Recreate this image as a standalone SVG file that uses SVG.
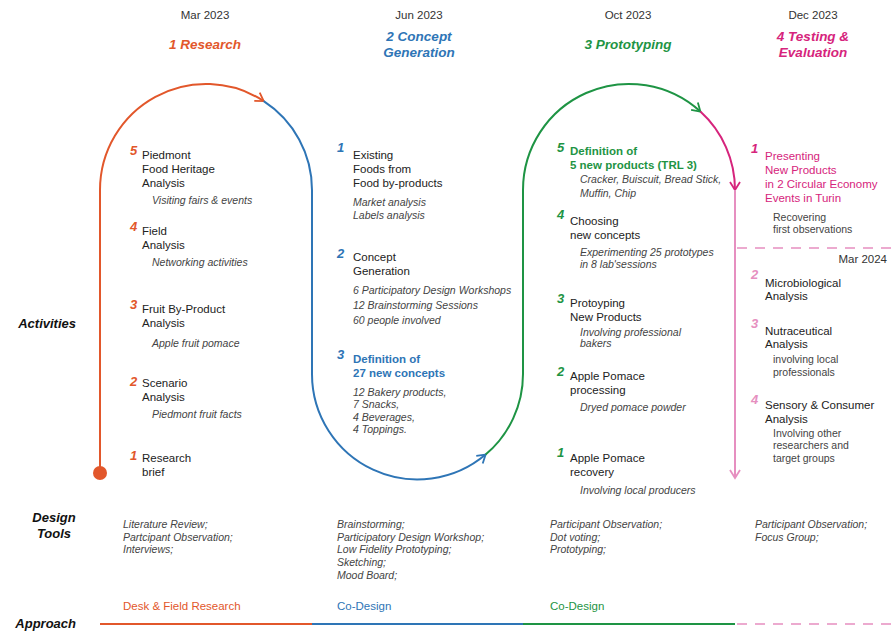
<svg xmlns="http://www.w3.org/2000/svg" width="893" height="632" viewBox="0 0 893 632">
<style>
text { font-family: "Liberation Sans", Arial, sans-serif; }
.date { font-size: 11.5px; fill: #333; text-anchor: middle; }
.phase { font-size: 13.5px; font-weight: bold; font-style: italic; text-anchor: middle; }
.row { font-size: 13px; font-weight: bold; font-style: italic; fill: #111; }
.num { font-size: 13px; font-weight: bold; font-style: italic; }
.t { font-size: 11.5px; fill: #222; }
.b { font-size: 11.5px; font-weight: bold; }
.s { font-size: 10.5px; font-style: italic; fill: #444; }
.sn { font-size: 10.5px; fill: #444; }
.tool { font-size: 10.5px; font-style: italic; fill: #444; }
.appr { font-size: 11.5px; }
.or { fill: #E2572B; } .bl { fill: #2E75B6; } .gr { fill: #1E9444; } .pk { fill: #D6247C; } .lp { fill: #E68FC0; }
.ln { fill: none; stroke-width: 2; }
</style>
<defs>
<marker id="aO" viewBox="0 0 12 12" refX="10" refY="6" markerWidth="12" markerHeight="12" markerUnits="userSpaceOnUse" orient="auto"><path d="M2,1 L10,6 L2,11" fill="none" stroke="#E2572B" stroke-width="1.8"/></marker>
<marker id="aB" viewBox="0 0 12 12" refX="10" refY="6" markerWidth="12" markerHeight="12" markerUnits="userSpaceOnUse" orient="auto"><path d="M2,1 L10,6 L2,11" fill="none" stroke="#2E75B6" stroke-width="1.8"/></marker>
<marker id="aG" viewBox="0 0 12 12" refX="10" refY="6" markerWidth="12" markerHeight="12" markerUnits="userSpaceOnUse" orient="auto"><path d="M2,1 L10,6 L2,11" fill="none" stroke="#1E9444" stroke-width="1.8"/></marker>
<marker id="aP" viewBox="0 0 12 12" refX="10" refY="6" markerWidth="12" markerHeight="12" markerUnits="userSpaceOnUse" orient="auto"><path d="M2,1 L10,6 L2,11" fill="none" stroke="#D6247C" stroke-width="1.8"/></marker>
<marker id="aL" viewBox="0 0 12 12" refX="10" refY="6" markerWidth="12" markerHeight="12" markerUnits="userSpaceOnUse" orient="auto"><path d="M2,1 L10,6 L2,11" fill="none" stroke="#E68FC0" stroke-width="1.8"/></marker>
</defs>
<rect width="893" height="632" fill="#ffffff"/>

<g id="headers">
<text class="date" x="205" y="19">Mar 2023</text>
<text class="date" x="419" y="19">Jun 2023</text>
<text class="date" x="628" y="19">Oct 2023</text>
<text class="date" x="813" y="19">Dec 2023</text>
<text class="phase or" x="205" y="49">1 Research</text>
<text class="phase bl" x="419" y="41">2 Concept</text>
<text class="phase bl" x="419" y="57">Generation</text>
<text class="phase gr" x="628" y="49">3 Prototyping</text>
<text class="phase pk" x="813" y="41">4 Testing &amp;</text>
<text class="phase pk" x="813" y="57">Evaluation</text>
</g>

<g id="row-labels">
<text class="row" x="76" y="328" text-anchor="end">Activities</text>
<text class="row" x="54" y="522" text-anchor="middle">Design</text>
<text class="row" x="54" y="538" text-anchor="middle">Tools</text>
<text class="row" x="76" y="628" text-anchor="end">Approach</text>
</g>

<g id="connectors">
<path class="ln" stroke="#E2572B" d="M100,473 V190 A106,106 0 0 1 263.7,101.1" marker-end="url(#aO)"/>
<circle cx="100" cy="473" r="7" fill="#E2572B"/>
<path class="ln" stroke="#2E75B6" d="M263.7,101.1 A106,106 0 0 1 312,190 V374 A105.5,105.5 0 0 0 485.6,454.6" marker-end="url(#aB)"/>
<path class="ln" stroke="#1E9444" d="M485.6,454.6 A105.5,105.5 0 0 0 523,374 V190 A106,106 0 0 1 700.4,111.6" marker-end="url(#aG)"/>
<path class="ln" stroke="#D6247C" d="M700.4,111.6 A106,106 0 0 1 735,190" marker-end="url(#aP)"/>
<path class="ln" stroke="#E68FC0" d="M735,190 V478" marker-end="url(#aL)"/>
<path fill="none" stroke="#E68FC0" stroke-width="1.6" stroke-dasharray="10 8" d="M737,248 H893"/>
<path class="ln" stroke="#E2572B" d="M100,624 H312"/>
<path class="ln" stroke="#2E75B6" d="M312,624 H523"/>
<path class="ln" stroke="#1E9444" d="M523,624 H735"/>
<path fill="none" stroke="#E68FC0" stroke-width="1.6" stroke-dasharray="10 8" d="M737,624 H893"/>
</g>

<g id="r5">
<text class="num or" x="130" y="155">5</text>
<text class="t" x="142" y="159">Piedmont</text>
<text class="t" x="142" y="173">Food Heritage</text>
<text class="t" x="142" y="187">Analysis</text>
<text class="s" x="152" y="204">Visiting fairs &amp; events</text>
</g>
<g id="r4">
<text class="num or" x="130" y="231">4</text>
<text class="t" x="142" y="235">Field</text>
<text class="t" x="142" y="249">Analysis</text>
<text class="s" x="152" y="266">Networking activities</text>
</g>
<g id="r3">
<text class="num or" x="130" y="309">3</text>
<text class="t" x="142" y="313">Fruit By-Product</text>
<text class="t" x="142" y="327">Analysis</text>
<text class="s" x="152" y="347">Apple fruit pomace</text>
</g>
<g id="r2">
<text class="num or" x="130" y="386">2</text>
<text class="t" x="142" y="387">Scenario</text>
<text class="t" x="142" y="401">Analysis</text>
<text class="s" x="152" y="418">Piedmont fruit facts</text>
</g>
<g id="r1">
<text class="num or" x="130" y="460">1</text>
<text class="t" x="142" y="462">Research</text>
<text class="t" x="142" y="476">brief</text>
</g>

<g id="c1">
<text class="num bl" x="337" y="152">1</text>
<text class="t" x="353" y="159">Existing</text>
<text class="t" x="353" y="173">Foods from</text>
<text class="t" x="353" y="187">Food by-products</text>
<text class="s" x="353" y="206">Market analysis</text>
<text class="s" x="353" y="219">Labels analysis</text>
</g>
<g id="c2">
<text class="num bl" x="337" y="258">2</text>
<text class="t" x="353" y="261">Concept</text>
<text class="t" x="353" y="275">Generation</text>
<text class="s" x="353" y="294">6 Participatory Design Workshops</text>
<text class="s" x="353" y="309">12 Brainstorming Sessions</text>
<text class="s" x="353" y="324">60 people involved</text>
</g>
<g id="c3">
<text class="num bl" x="337" y="359">3</text>
<text class="b bl" x="353" y="363">Definition of</text>
<text class="b bl" x="353" y="377">27 new concepts</text>
<text class="s" x="353" y="396">12 Bakery products,</text>
<text class="s" x="353" y="408">7 Snacks,</text>
<text class="s" x="353" y="421">4 Beverages,</text>
<text class="s" x="353" y="433">4 Toppings.</text>
</g>

<g id="p5">
<text class="num gr" x="557" y="152">5</text>
<text class="b gr" x="570" y="155">Definition of</text>
<text class="b gr" x="570" y="169">5 new products (TRL 3)</text>
<text class="s" x="580" y="183">Cracker, Buiscuit, Bread Stick,</text>
<text class="s" x="580" y="197">Muffin, Chip</text>
</g>
<g id="p4">
<text class="num gr" x="557" y="219">4</text>
<text class="t" x="570" y="225">Choosing</text>
<text class="t" x="570" y="239">new concepts</text>
<text class="s" x="580" y="256">Experimenting 25 prototypes</text>
<text class="s" x="580" y="268">in 8 lab'sessions</text>
</g>
<g id="p3">
<text class="num gr" x="557" y="303">3</text>
<text class="t" x="570" y="307">Protoyping</text>
<text class="t" x="570" y="321">New Products</text>
<text class="s" x="580" y="336">Involving professional</text>
<text class="s" x="580" y="347">bakers</text>
</g>
<g id="p2">
<text class="num gr" x="557" y="376">2</text>
<text class="t" x="570" y="380">Apple Pomace</text>
<text class="t" x="570" y="394">processing</text>
<text class="s" x="580" y="411">Dryed pomace powder</text>
</g>
<g id="p1">
<text class="num gr" x="557" y="457">1</text>
<text class="t" x="570" y="462">Apple Pomace</text>
<text class="t" x="570" y="476">recovery</text>
<text class="s" x="580" y="494">Involving local producers</text>
</g>

<g id="e1">
<text class="num pk" x="751" y="153">1</text>
<text class="t pk" x="765" y="160">Presenting</text>
<text class="t pk" x="765" y="174">New Products</text>
<text class="t pk" x="765" y="188">in 2 Circular Economy</text>
<text class="t pk" x="765" y="202">Events in Turin</text>
<text class="sn" x="773" y="221">Recovering</text>
<text class="sn" x="773" y="233">first observations</text>
</g>
<text class="date" x="887" y="263" text-anchor="end" style="text-anchor:end">Mar 2024</text>
<g id="e2">
<text class="num lp" x="751" y="279">2</text>
<text class="t" x="765" y="287">Microbiological</text>
<text class="t" x="765" y="300">Analysis</text>
</g>
<g id="e3">
<text class="num lp" x="751" y="328">3</text>
<text class="t" x="765" y="335">Nutraceutical</text>
<text class="t" x="765" y="348">Analysis</text>
<text class="sn" x="773" y="363">involving local</text>
<text class="sn" x="773" y="376">professionals</text>
</g>
<g id="e4">
<text class="num lp" x="751" y="404">4</text>
<text class="t" x="765" y="409">Sensory &amp; Consumer</text>
<text class="t" x="765" y="423">Analysis</text>
<text class="sn" x="773" y="437">Involving other</text>
<text class="sn" x="773" y="449">researchers and</text>
<text class="sn" x="773" y="462">target groups</text>
</g>

<g id="tools">
<text class="tool" x="123" y="528">Literature Review;</text>
<text class="tool" x="123" y="541">Partcipant Observation;</text>
<text class="tool" x="123" y="553">Interviews;</text>
<text class="tool" x="337" y="528">Brainstorming;</text>
<text class="tool" x="337" y="541">Participatory Design Workshop;</text>
<text class="tool" x="337" y="553">Low Fidelity Prototyping;</text>
<text class="tool" x="337" y="566">Sketching;</text>
<text class="tool" x="337" y="579">Mood Board;</text>
<text class="tool" x="550" y="528">Participant Observation;</text>
<text class="tool" x="550" y="541">Dot voting;</text>
<text class="tool" x="550" y="553">Prototyping;</text>
<text class="tool" x="755" y="528">Participant Observation;</text>
<text class="tool" x="755" y="541">Focus Group;</text>
</g>

<g id="approach">
<text class="appr or" x="123" y="610">Desk &amp; Field Research</text>
<text class="appr bl" x="337" y="610">Co-Design</text>
<text class="appr gr" x="550" y="610">Co-Design</text>
</g>
</svg>
